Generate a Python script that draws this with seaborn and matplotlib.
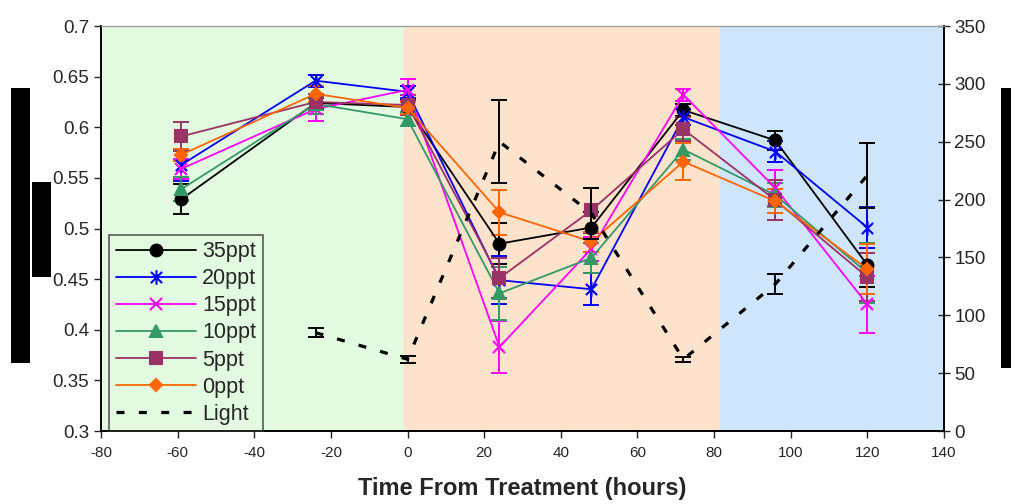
import numpy as np
import pandas as pd
import seaborn as sns
import matplotlib.pyplot as plt
from matplotlib.path import Path
from matplotlib.patches import Rectangle

# sampling times (hours from treatment)
hours = [-59, -24, 0, 24, 48, 72, 96, 120]

ppt35 = [0.529, 0.624, 0.620, 0.485, 0.501, 0.617, 0.587, 0.464]
err35 = [0.015, 0.005, 0.008, 0.020, 0.015, 0.006, 0.009, 0.022]
ppt20 = [0.563, 0.646, 0.635, 0.449, 0.440, 0.610, 0.576, 0.501]
err20 = [0.016, 0.006, 0.006, 0.024, 0.016, 0.008, 0.010, 0.020]
ppt15 = [0.559, 0.618, 0.637, 0.383, 0.480, 0.632, 0.540, 0.425]
err15 = [0.010, 0.012, 0.011, 0.026, 0.012, 0.006, 0.018, 0.028]
ppt10 = [0.539, 0.623, 0.608, 0.436, 0.471, 0.578, 0.533, 0.456]
err10 = [0.012, 0.010, 0.007, 0.026, 0.015, 0.010, 0.012, 0.030]
ppt5 = [0.591, 0.625, 0.622, 0.451, 0.518, 0.598, 0.528, 0.452]
err5 = [0.014, 0.008, 0.010, 0.020, 0.022, 0.012, 0.020, 0.024]
ppt0 = [0.573, 0.633, 0.619, 0.516, 0.487, 0.566, 0.527, 0.460]
err0 = [0.006, 0.008, 0.006, 0.022, 0.010, 0.018, 0.012, 0.025]

light_hours = [-24, 0, 24, 48, 72, 96, 120]
light = [85, 62, 250, 188, 62, 127, 221]
light_err = [4, 3, 36, 22, 2, 9, 28]

# excel-like asterisk marker
asterisk = Path([(-1, -1), (1, 1), (-1, 1), (1, -1), (0, -1.3), (0, 1.3)],
                [Path.MOVETO, Path.LINETO, Path.MOVETO, Path.LINETO,
                 Path.MOVETO, Path.LINETO])

series = [
    ('35ppt', ppt35, err35, 'black', 'o', 8.5),
    ('20ppt', ppt20, err20, '#0000ff', asterisk, 10.5),
    ('15ppt', ppt15, err15, '#ff00ff', 'x', 9),
    ('10ppt', ppt10, err10, '#339966', '^', 8.5),
    ('5ppt', ppt5, err5, '#993366', 's', 8),
    ('0ppt', ppt0, err0, '#ff6600', 'D', 6.5),
]

sns.set_style('white')
plt.rcParams['font.family'] = ['Liberation Sans', 'DejaVu Sans']
plt.rcParams['axes.unicode_minus'] = False

fig = plt.figure(figsize=(10.11, 5.04), dpi=100)
ax = fig.add_axes([0.0999, 0.1448, 0.8338, 0.8036])

ax.axvspan(-80, -0.8, color='#e2fbe0', zorder=0, lw=0)
ax.axvspan(-0.8, 81.5, color='#fde2cc', zorder=0, lw=0)
ax.axvspan(81.5, 140, color='#cfe5fb', zorder=0, lw=0)

handles = []
for name, vals, errs, col, mk, ms in series:
    df = pd.DataFrame({'hours': hours, 'value': vals})
    ax.errorbar(hours, vals, yerr=errs, fmt='none', ecolor=col,
                elinewidth=1.4, capsize=6, capthick=1.4, zorder=2)
    sns.lineplot(data=df, x='hours', y='value', ax=ax, color=col, lw=1.3,
                 marker=mk, markersize=ms, markerfacecolor=col,
                 markeredgecolor=col, markeredgewidth=1.5, zorder=3)
    handles.append(ax.lines[-1])

ax.set_xlim(-80, 140)
ax.set_ylim(0.3, 0.7)
ax.set_xticks(np.arange(-80, 141, 20))
ax.set_yticks(np.arange(0.3, 0.701, 0.05))
ax.set_yticklabels(['0.3', '0.35', '0.4', '0.45', '0.5', '0.55', '0.6', '0.65', '0.7'])
ax.set_xlabel('Time From Treatment (hours)', fontsize=17, fontweight='bold', labelpad=12)
ax.set_ylabel('')
ax.tick_params(axis='y', labelsize=13.5, direction='out', length=5, width=1, left=True)
ax.tick_params(axis='x', labelsize=11, direction='out', length=5, width=1, bottom=True, pad=6)

ax2 = ax.twinx()
ldf = pd.DataFrame({'hours': light_hours, 'light': light})
ax2.errorbar(light_hours, light, yerr=light_err, fmt='none', ecolor='black',
             elinewidth=1.4, capsize=6, capthick=1.4, zorder=2)
sns.lineplot(data=ldf, x='hours', y='light', ax=ax2, color='black', lw=2.3,
             linestyle=(0, (2.5, 4.5)), zorder=3)
handles.append(ax2.lines[-1])
ax2.set_ylim(0, 350)
ax2.set_yticks(np.arange(0, 351, 50))
ax2.set_ylabel('')
ax2.tick_params(axis='y', labelsize=13.5, direction='inout', length=8, width=1, right=True)

for a in (ax, ax2):
    for side in ('left', 'right', 'bottom'):
        a.spines[side].set_color('black')
        a.spines[side].set_linewidth(1.2)
    a.spines['top'].set_color('#999999')
    a.spines['top'].set_linewidth(0.8)

labels = [s[0] for s in series] + ['Light']
leg = ax2.legend(handles, labels, loc='lower left', bbox_to_anchor=(0.01, 0.0),
                 borderaxespad=0, fontsize=15.5, frameon=True, fancybox=False,
                 handlelength=3.7, handletextpad=0.3, labelspacing=0.28,
                 borderpad=0.3)
leg.get_frame().set_edgecolor('#333333')
leg.get_frame().set_facecolor('none')
leg.get_frame().set_linewidth(1.2)

# blacked-out axis titles
W, H = 1011, 504
for x0, y0, x1, y1 in [(11, 88, 30, 363), (32, 182, 51, 277), (1001, 88, 1011, 368)]:
    fig.add_artist(Rectangle((x0 / W, 1 - y1 / H), (x1 - x0) / W, (y1 - y0) / H,
                             transform=fig.transFigure, color='black', lw=0))

fig.savefig('out.png', dpi=100)
